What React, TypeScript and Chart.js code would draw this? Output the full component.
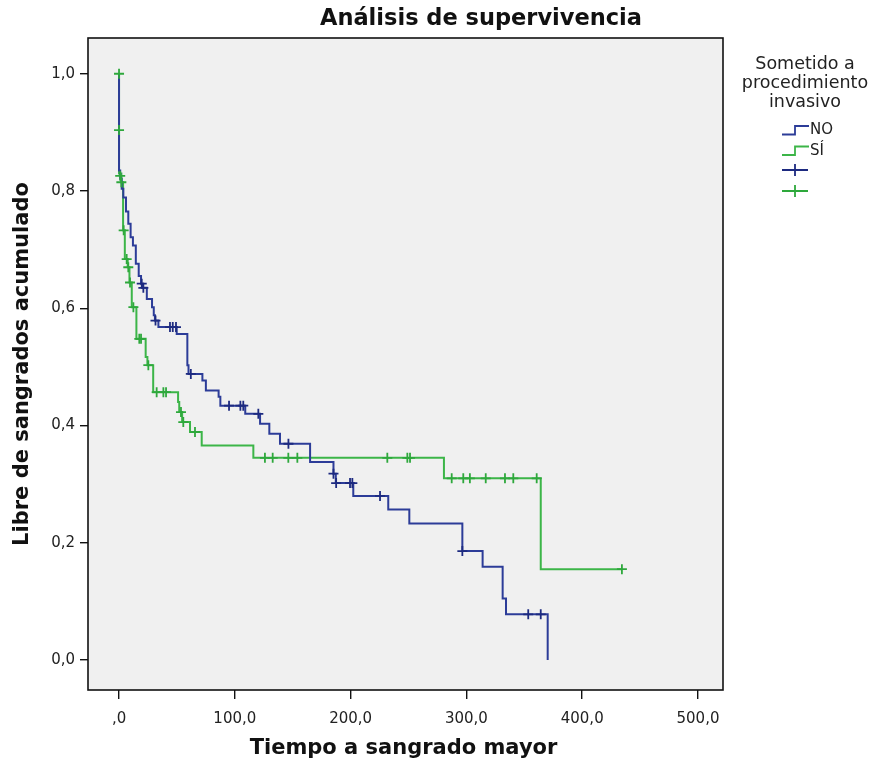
import React, { useEffect, useRef } from "react";
import { Chart, registerables } from "chart.js";

Chart.register(...registerables);

const TITLE = "Análisis de supervivencia";
const X_TITLE = "Tiempo a sangrado mayor";
const Y_TITLE = "Libre de sangrados acumulado";
const LEGEND_TITLE = ["Sometido a", "procedimiento", "invasivo"];
const GROUPS = ["NO", "SÍ"];
const X_TICKS = [0, 100, 200, 300, 400, 500];
const Y_TICKS = [0, 0.2, 0.4, 0.6, 0.8, 1.0];

// Group "NO": event times and survival after each event
const noTimes = [0, 0, 1, 2.3, 3.7, 6, 8, 10, 12, 14.5, 17, 19, 20.5, 24, 28.5, 30, 31, 34, 49.8, 59, 60, 72, 75, 86, 87.5, 109, 121.8, 129.8, 139, 165, 185.2, 187.2, 202.3, 232.5, 250.7, 296.5, 314, 331.3, 334.2, 370.2];
const noSurv = [1.0, 0.835, 0.821, 0.804, 0.789, 0.765, 0.744, 0.721, 0.707, 0.676, 0.655, 0.642, 0.635, 0.616, 0.602, 0.588, 0.579, 0.568, 0.556, 0.503, 0.488, 0.477, 0.46, 0.449, 0.434, 0.42, 0.403, 0.386, 0.369, 0.338, 0.318, 0.302, 0.28, 0.257, 0.233, 0.186, 0.159, 0.105, 0.078, 0.0];
// Group "NO": censored observations
const noCensTimes = [19.6, 21, 31.5, 44, 46.4, 49.2, 62, 95, 104.8, 107.3, 120.3, 146.3, 185.2, 187.5, 199.5, 201.5, 225.4, 296.5, 353.4, 364.2];
const noCensSurv = [0.642, 0.635, 0.579, 0.568, 0.568, 0.568, 0.488, 0.434, 0.434, 0.434, 0.42, 0.369, 0.318, 0.302, 0.302, 0.302, 0.28, 0.186, 0.078, 0.078];

// Group "SÍ": event times and survival after each event
const siTimes = [0, 0, 2, 3.5, 5, 7.5, 9, 11, 15, 23, 24.5, 29.5, 51, 52, 54.5, 61.3, 71.4, 116, 280.6, 364.2, 434.3];
const siSurv = [1.0, 0.83, 0.815, 0.733, 0.684, 0.67, 0.644, 0.602, 0.548, 0.517, 0.503, 0.457, 0.44, 0.423, 0.406, 0.389, 0.366, 0.345, 0.31, 0.155, 0.155];
// Group "SÍ": censored observations
const siCensTimes = [0, 0, 1, 2, 4, 6.6, 8, 9.5, 12.4, 17.5, 19, 25.3, 32.5, 38.3, 40.6, 53.5, 55.5, 65.6, 126, 132.7, 146.2, 154, 231.7, 249, 251.3, 287.3, 297.3, 303, 316.7, 333.3, 340.5, 360.7, 434.3];
const siCensSurv = [1.0, 0.904, 0.826, 0.815, 0.733, 0.684, 0.67, 0.644, 0.602, 0.548, 0.548, 0.503, 0.457, 0.457, 0.457, 0.423, 0.406, 0.389, 0.345, 0.345, 0.345, 0.345, 0.345, 0.345, 0.345, 0.31, 0.31, 0.31, 0.31, 0.31, 0.31, 0.31, 0.155];

const BLUE = "#2c3c98";
const BLUE_DARK = "#1d2a80";
const GREEN = "#3cb548";
const GREEN_DARK = "#2ea83c";
const FONT = '"DejaVu Sans", Verdana, sans-serif';

const toPoints = (xs: number[], ys: number[]) => xs.map((x, i) => ({ x, y: ys[i] }));
const fmt = (v: number) => v.toFixed(1).replace(".", ",");

const decor = {
  id: "decor",
  beforeDraw(chart: any) {
    const { ctx, chartArea: a } = chart;
    ctx.save();
    ctx.fillStyle = "#ffffff";
    ctx.fillRect(0, 0, chart.width, chart.height);
    ctx.fillStyle = "#f0f0f0";
    ctx.fillRect(a.left, a.top, a.right - a.left, a.bottom - a.top);
    ctx.restore();
  },
  afterDraw(chart: any) {
    const { ctx, chartArea: a } = chart;
    ctx.save();
    // frame
    ctx.strokeStyle = "#111";
    ctx.lineWidth = 1.6;
    ctx.strokeRect(a.left, a.top, a.right - a.left, a.bottom - a.top);

    ctx.fillStyle = "#111";
    ctx.textAlign = "center";
    ctx.textBaseline = "middle";
    // title
    ctx.font = `bold 22.5px ${FONT}`;
    ctx.fillText(TITLE, 481, 19);
    // x title
    ctx.font = `bold 21px ${FONT}`;
    ctx.fillText(X_TITLE, (a.left + a.right) / 2 - 2, 749);
    // y title
    ctx.save();
    ctx.translate(23, (a.top + a.bottom) / 2);
    ctx.rotate(-Math.PI / 2);
    ctx.fillText(Y_TITLE, 0, 0);
    ctx.restore();

    // legend title
    ctx.font = `17.5px ${FONT}`;
    ctx.fillStyle = "#222";
    LEGEND_TITLE.forEach((t, i) => ctx.fillText(t, 805, 64 + i * 19));

    // legend items: step symbols
    const colors = [BLUE, GREEN];
    ctx.textAlign = "left";
    ctx.font = `15px ${FONT}`;
    GROUPS.forEach((g, i) => {
      const yc = 130 + i * 20.5;
      ctx.strokeStyle = colors[i];
      ctx.lineWidth = 1.8;
      ctx.beginPath();
      ctx.moveTo(782, yc + 4.5);
      ctx.lineTo(795, yc + 4.5);
      ctx.lineTo(795, yc - 4);
      ctx.lineTo(809, yc - 4);
      ctx.stroke();
      ctx.fillStyle = "#222";
      ctx.fillText(g, 810, yc + 0.5);
    });
    // legend items: censor symbols
    [BLUE_DARK, GREEN_DARK].forEach((c, i) => {
      const yc = 170 + i * 21;
      ctx.strokeStyle = c;
      ctx.lineWidth = 1.8;
      ctx.beginPath();
      ctx.moveTo(782, yc);
      ctx.lineTo(808, yc);
      ctx.moveTo(795, yc - 6);
      ctx.lineTo(795, yc + 6);
      ctx.stroke();
    });
    ctx.restore();
  },
};

export default function App() {
  const ref = useRef<HTMLCanvasElement>(null);
  useEffect(() => {
    document.body.style.margin = "0";
    const canvas = ref.current!;
    const chart = new Chart(canvas, {
      type: "scatter",
      data: {
        datasets: [
          {
            label: "NO +",
            data: toPoints(noCensTimes, noCensSurv),
            pointStyle: "cross",
            pointRadius: 5,
            pointBorderWidth: 1.8,
            borderColor: BLUE_DARK,
            backgroundColor: BLUE_DARK,
            showLine: false,
          },
          {
            label: "SÍ +",
            data: toPoints(siCensTimes, siCensSurv),
            pointStyle: "cross",
            pointRadius: 5,
            pointBorderWidth: 1.8,
            borderColor: GREEN_DARK,
            backgroundColor: GREEN_DARK,
            showLine: false,
          },
          {
            label: GROUPS[0],
            data: toPoints(noTimes, noSurv),
            showLine: true,
            stepped: "before",
            borderColor: BLUE,
            borderWidth: 2,
            pointRadius: 0,
            fill: false,
          },
          {
            label: GROUPS[1],
            data: toPoints(siTimes, siSurv),
            showLine: true,
            stepped: "before",
            borderColor: GREEN,
            borderWidth: 2,
            pointRadius: 0,
            fill: false,
          },
        ],
      },
      options: {
        responsive: false,
        animation: false,
        layout: { padding: { left: 0, top: 38, right: 163, bottom: 0 } },
        plugins: {
          legend: { display: false },
          tooltip: { enabled: false },
          title: { display: false },
        },
        scales: {
          x: {
            type: "linear",
            min: -26.8,
            max: 521.6,
            afterBuildTicks: (s: any) => {
              s.ticks = X_TICKS.map((v) => ({ value: v }));
            },
            afterFit: (s: any) => {
              s.height = 74;
            },
            ticks: {
              font: { family: FONT, size: 15 },
              color: "#222",
              padding: 11,
              maxRotation: 0,
              callback: (v: any) => (Number(v) === 0 ? ",0" : fmt(Number(v))),
            },
            grid: { drawOnChartArea: false, drawTicks: true, tickLength: 9, color: "#111", lineWidth: 1.4 },
            border: { display: false },
          },
          y: {
            type: "linear",
            min: -0.051,
            max: 1.061,
            afterBuildTicks: (s: any) => {
              s.ticks = Y_TICKS.map((v) => ({ value: v }));
            },
            afterFit: (s: any) => {
              s.width = 88;
            },
            ticks: {
              font: { family: FONT, size: 15 },
              color: "#222",
              padding: 5,
              callback: (v: any) => fmt(Number(v)),
            },
            grid: { drawOnChartArea: false, drawTicks: true, tickLength: 8, color: "#111", lineWidth: 1.4 },
            border: { display: false },
          },
        },
      },
      plugins: [decor],
    });
    return () => chart.destroy();
  }, []);
  return (
    <div style={{ width: 886, height: 764, background: "#fff" }}>
      <canvas ref={ref} width={886} height={764} style={{ display: "block" }} />
    </div>
  );
}
